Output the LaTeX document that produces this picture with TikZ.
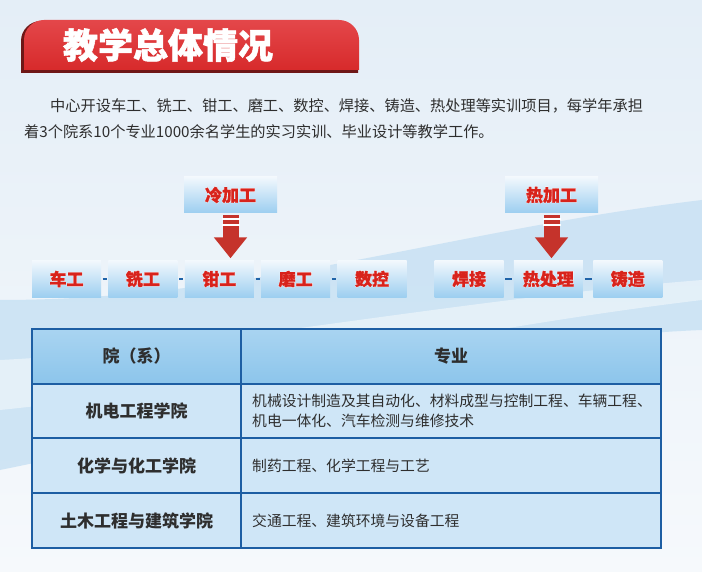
\documentclass[tikz,border=0pt]{standalone}
\usepackage{fontspec}
\setmainfont{Noto Sans CJK SC}
\newfontfamily\haloface{Noto Sans CJK SC}[FakeBold=5]
\newfontfamily\heavyface{Noto Sans CJK SC}[FakeBold=1.5]
\usetikzlibrary{positioning,arrows.meta}

\definecolor{bannerred}{HTML}{D72A2B}
\definecolor{bannerlight}{HTML}{E4474A}
\definecolor{bannerdark}{HTML}{6E1717}
\definecolor{textgray}{HTML}{2E2E2E}
\definecolor{boxtop}{HTML}{F2F8FD}
\definecolor{boxbot}{HTML}{9CCEF0}
\definecolor{wordred}{HTML}{D8231C}
\definecolor{arrowred}{HTML}{C5332B}
\definecolor{linkblue}{HTML}{1F63A8}
\definecolor{gridblue}{HTML}{1D5EA3}
\definecolor{headblue}{HTML}{8CC5EB}
\definecolor{headlight}{HTML}{A9D4F1}
\definecolor{rowblue}{HTML}{CFE6F7}
\definecolor{bgpale}{HTML}{E4EEF7}
\definecolor{bgwhite}{HTML}{F6F9FC}
\definecolor{bgband}{HTML}{C6E0F3}

% red word with a white halo
\newcommand\outlined[1]{\rlap{\haloface\bfseries\color{white}#1}{\heavyface\bfseries #1}}

\tikzset{
  procbox/.style={minimum width=69pt, minimum height=37pt, inner sep=0pt,
    top color=boxtop, bottom color=boxbot, text=wordred,
    font=\fontsize{17}{17}\selectfont},
  headbox/.style={procbox, minimum width=93pt, minimum height=36pt},
  link/.style={draw=linkblue, line width=2.2pt, shorten <=1.5pt, shorten >=1.5pt},
  downarrow/.style={draw=arrowred, line width=16pt, shorten <=2pt, shorten >=2pt,
    -{Triangle[width=32pt,length=21pt]}},
  stripe/.style={draw=white, line width=1.5pt},
  para/.style={anchor=west, inner sep=0pt, text=textgray,
    font=\fontsize{15.2}{15.2}\selectfont},
  grid/.style={draw=gridblue, line width=2.6pt},
  headtext/.style={inner sep=0pt, text=textgray, font=\fontsize{17}{17}\selectfont\bfseries},
  celltext/.style={anchor=west, inner sep=0pt, align=left, text=textgray,
    font=\fontsize{14.8}{20}\selectfont}
}

\begin{document}
\begin{tikzpicture}[x=1pt,y=-1pt]
  \useasboundingbox (0,0) rectangle (702,572);
  % background
  \shade[top color=bgpale, bottom color=bgwhite] (0,0) rectangle (702,572);
  \fill[bgband, opacity=.8] (0,300) .. controls (250,300) and (450,230) .. (702,200)
    -- (702,330) .. controls (450,340) and (250,420) .. (0,470) -- cycle;
  \fill[white, opacity=.45] (0,360) .. controls (200,350) and (450,300) .. (702,280)
    -- (702,300) .. controls (450,330) and (200,390) .. (0,410) -- cycle;

  % title banner
  \fill[bannerdark] (21,73) [rounded corners=20pt] -- (21,21) -- (358,21)
    [sharp corners] -- (358,73) -- cycle;
  \shade[top color=bannerlight, bottom color=bannerred] (24,70) [rounded corners=20pt]
    -- (24,20) -- (359,20) [sharp corners] -- (359,70) -- cycle;
  \node[text=white, font=\fontsize{35}{35}\selectfont\heavyface\bfseries] (title) at (168,45) {教学总体情况};

  % intro text
  \node[para] (line1) at (50,106) {中心开设车工、铣工、钳工、磨工、数控、焊接、铸造、热处理等实训项目，每学年承担};
  \node[para] (line2) at (24,132) {着3个院系10个专业1000余名学生的实习实训、毕业设计等教学工作。};

  % cold working
  \node[headbox] (lengjia) at (230.5,195) {\outlined{冷加工}};
  \node[procbox] (c1) at (66.5,279) {\outlined{车工}};
  \foreach \i/\txt in {2/铣工,3/钳工,4/磨工,5/数控}{
    \pgfmathtruncatemacro\j{\i-1}
    \node[procbox, right=7pt of c\j] (c\i) {\outlined{\txt}};
    \draw[link] (c\j) -- (c\i);
  }
  \draw[downarrow] (lengjia.south) -- (lengjia.south |- c3.north);
  \foreach \d in {6,12}
    \draw[stripe] ([xshift=-9pt,yshift=-\d pt]lengjia.south) -- ([xshift=9pt,yshift=-\d pt]lengjia.south);

  % hot working
  \node[headbox] (rejia) at (551.5,195) {\outlined{热加工}};
  \node[procbox] (h1) at (469,279) {\outlined{焊接}};
  \foreach \i/\txt in {2/热处理,3/铸造}{
    \pgfmathtruncatemacro\j{\i-1}
    \node[procbox, right=10pt of h\j] (h\i) {\outlined{\txt}};
    \draw[link] (h\j) -- (h\i);
  }
  \draw[downarrow] (rejia.south) -- (rejia.south |- h2.north);
  \foreach \d in {6,12}
    \draw[stripe] ([xshift=-9pt,yshift=-\d pt]rejia.south) -- ([xshift=9pt,yshift=-\d pt]rejia.south);

  % table
  \shade[top color=headlight, bottom color=headblue] (32,329) rectangle (661,384);
  \fill[rowblue] (32,384) rectangle (661,548);
  \foreach \y in {384,438,493}
    \draw[grid] (32,\y) -- (661,\y);
  \draw[grid] (241,329) -- (241,548);
  \draw[grid] (32,329) rectangle (661,548);

  \node[headtext] (colA) at (136.5,356.5) {院（系）};
  \node[headtext] (colB) at (451,356.5) {专业};
  \node[headtext] (rowA) at (136.5,411) {机电工程学院};
  \node[headtext] (rowB) at (136.5,465.5) {化学与化工学院};
  \node[headtext] (rowC) at (136.5,520.5) {土木工程与建筑学院};
  \node[celltext] (majA) at (252,411) {机械设计制造及其自动化、材料成型与控制工程、车辆工程、\\机电一体化、汽车检测与维修技术};
  \node[celltext] (majB) at (252,465.5) {制药工程、化学工程与工艺};
  \node[celltext] (majC) at (252,520.5) {交通工程、建筑环境与设备工程};
\end{tikzpicture}
\end{document}
